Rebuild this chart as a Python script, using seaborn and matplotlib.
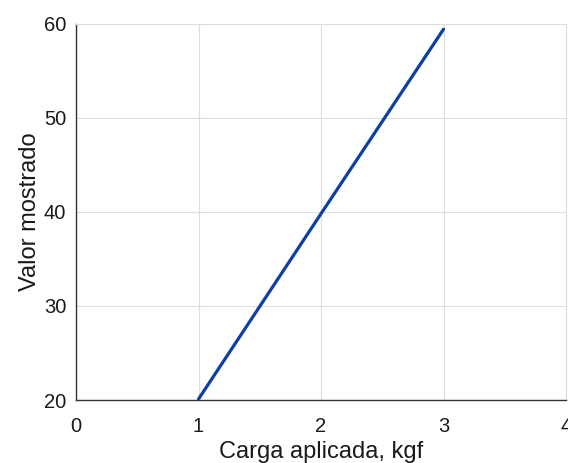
import seaborn as sns
import matplotlib.pyplot as plt
import pandas as pd

# Applied load vs displayed value
carga = [1, 2, 3]
valor = [20.1, 39.8, 59.4]

x_ticks = [0, 1, 2, 3, 4]
y_ticks = [20, 30, 40, 50, 60]

df = pd.DataFrame({'Carga': carga, 'Valor': valor})

sns.set_style('white')
plt.rcParams['font.family'] = ['Liberation Sans', 'DejaVu Sans']

fig = plt.figure(figsize=(5.68, 4.63), dpi=100)
ax = fig.add_axes([0.1338, 0.136, 0.8627, 0.813])

sns.lineplot(data=df, x='Carga', y='Valor', ax=ax, color='#0b3ea6', linewidth=2.3)

ax.set_xlim(0, 4)
ax.set_ylim(20, 60)
ax.set_xticks(x_ticks)
ax.set_yticks(y_ticks)
ax.grid(True, color='#dddddd', linewidth=0.8)
ax.set_axisbelow(True)

for side in ['left', 'bottom']:
    ax.spines[side].set_color('#3b3030')
    ax.spines[side].set_linewidth(1.0)
for side in ['top', 'right']:
    ax.spines[side].set_color('#dddddd')
    ax.spines[side].set_linewidth(0.8)

ax.tick_params(axis='y', length=3, width=0.8, color='#3b3030', labelsize=14.5,
               labelcolor='#1a1a1a', pad=4)
ax.tick_params(axis='x', length=0, labelsize=14.5, labelcolor='#1a1a1a', pad=12)

ax.set_xlabel('Carga aplicada, kgf', fontsize=17, color='#1a1a1a', labelpad=4)
ax.set_ylabel('Valor mostrado', fontsize=17, color='#1a1a1a', labelpad=2)

fig.savefig('out.png', dpi=100)
